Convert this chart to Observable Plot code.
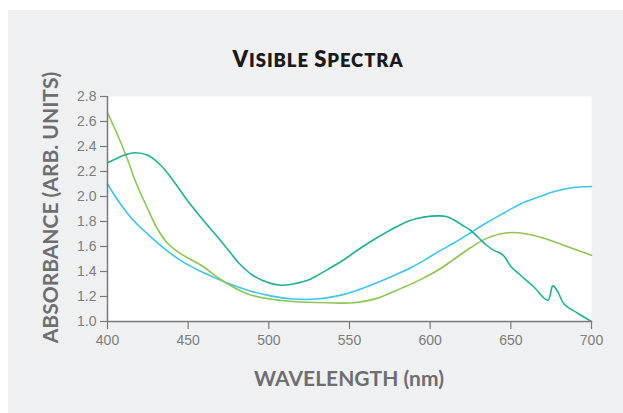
<!DOCTYPE html>
<html>
<head>
<meta charset="utf-8">
<script src="https://cdn.jsdelivr.net/npm/d3@7"></script>
<script src="https://cdn.jsdelivr.net/npm/@observablehq/plot@0.6"></script>
<style>
  html, body { margin: 0; padding: 0; background: #ffffff; }
  #panel { position: absolute; left: 8px; top: 10px; width: 615px; height: 403px; background: #eff0f2; overflow: hidden; }
  #title { position: absolute; left: 0; width: 620px; top: 38px; text-align: center; font-family: Lato, "Open Sans", sans-serif; font-weight: 800; color: #1a1a1a; letter-spacing: 0.9px; line-height: 1; }
  #title .big { font-size: 22px; }
  #title .sm { font-size: 18.5px; }
  #xlabel { position: absolute; left: 0; width: 682px; top: 355px; text-align: center; font-family: Lato, sans-serif; font-weight: 700; font-size: 21px; color: #6d6e70; }
  #ylabel { position: absolute; left: 41px; top: 185px; width: 320px; margin-left: -160px; text-align: center; transform: rotate(-90deg); font-family: Lato, sans-serif; font-weight: 700; font-size: 21px; line-height: 25px; color: #6d6e70; white-space: nowrap; }
  #chart { position: absolute; left: 0; top: 0; }
</style>
</head>
<body>
<div id="panel">
  <div id="title"><span class="big">V</span><span class="sm">ISIBLE </span><span class="big">S</span><span class="sm">PECTRA</span></div>
  <div id="chart"></div>
  <div id="xlabel">WAVELENGTH (nm)</div>
  <div id="ylabel">ABSORBANCE (ARB. UNITS)</div>
</div>
<script>
const xTicks = [400, 450, 500, 550, 600, 650, 700];
const yTicks = [1.0, 1.2, 1.4, 1.6, 1.8, 2.0, 2.2, 2.4, 2.6, 2.8];

const tealWl  = [400,405,410,417,425,433,440,450,460,468,475,482,490,501,508,515,526,535,546,556,567,578,588,596,605,610,615,620,625,630,635,640,643,646,650,656,664,673,676,679,683,691,700];
const tealAbs = [2.27,2.30,2.33,2.35,2.33,2.25,2.14,1.96,1.80,1.68,1.57,1.46,1.37,1.305,1.29,1.30,1.34,1.405,1.49,1.58,1.67,1.75,1.81,1.835,1.845,1.84,1.81,1.77,1.73,1.67,1.61,1.565,1.55,1.52,1.44,1.37,1.28,1.17,1.285,1.24,1.14,1.07,1.00];

const blueWl  = [400,408,416,427,437,447,458,472,487,501,515,530,546,556,567,578,588,597,606,615,625,635,646,656,666,677,688,700];
const blueAbs = [2.10,1.94,1.81,1.675,1.565,1.475,1.40,1.32,1.25,1.205,1.18,1.18,1.215,1.255,1.31,1.37,1.43,1.495,1.565,1.63,1.71,1.79,1.87,1.94,1.99,2.04,2.07,2.08];

const greenWl  = [400,406,412,418,425,431,437,445,458,472,487,501,515,536,553,567,582,594,606,615,625,635,648,660,672,687,700];
const greenAbs = [2.67,2.50,2.31,2.10,1.90,1.74,1.63,1.545,1.45,1.32,1.22,1.18,1.16,1.15,1.15,1.185,1.265,1.335,1.42,1.50,1.59,1.665,1.71,1.70,1.66,1.59,1.53];

const toRows = (wl, ab) => wl.map((w, i) => ({w, a: ab[i]}));
const teal = toRows(tealWl, tealAbs);
const blue = toRows(blueWl, blueAbs);
const green = toRows(greenWl, greenAbs);

const axisColor = "#7a7a7a";

const chart = Plot.plot({
  width: 615,
  height: 403,
  marginLeft: 99,
  marginRight: 32,
  marginTop: 86,
  marginBottom: 92,
  style: { background: "transparent", fontFamily: "'Liberation Sans', Arial, sans-serif", fontSize: "14px", color: "#7d7d7d", overflow: "visible" },
  x: { domain: [400, 700], label: null },
  y: { domain: [1.0, 2.8], label: null },
  marks: [
    Plot.frame({ fill: "white", stroke: null }),
    Plot.line(blue, { x: "w", y: "a", stroke: "#3ec4ee", strokeWidth: 1.6, curve: "catmull-rom" }),
    Plot.line(green, { x: "w", y: "a", stroke: "#8cc655", strokeWidth: 1.6, curve: "catmull-rom" }),
    Plot.line(teal, { x: "w", y: "a", stroke: "#22b096", strokeWidth: 1.6, curve: "catmull-rom" }),
    Plot.ruleX([400], { stroke: axisColor, strokeWidth: 1.5 }),
    Plot.ruleY([1.0], { stroke: axisColor, strokeWidth: 1.5 }),
    Plot.axisX({ ticks: xTicks, tickSize: 8, tickPadding: 6, stroke: axisColor, strokeWidth: 1.2, tickFormat: d3.format("d"), fill: "#7d7d7d", fontSize: 14, label: null }),
    Plot.axisY({ ticks: yTicks, tickSize: 7, tickPadding: 4, stroke: axisColor, strokeWidth: 1.2, tickFormat: d3.format(".1f"), fill: "#7d7d7d", fontSize: 14, label: null })
  ]
});
document.getElementById("chart").appendChild(chart);
</script>
</body>
</html>
